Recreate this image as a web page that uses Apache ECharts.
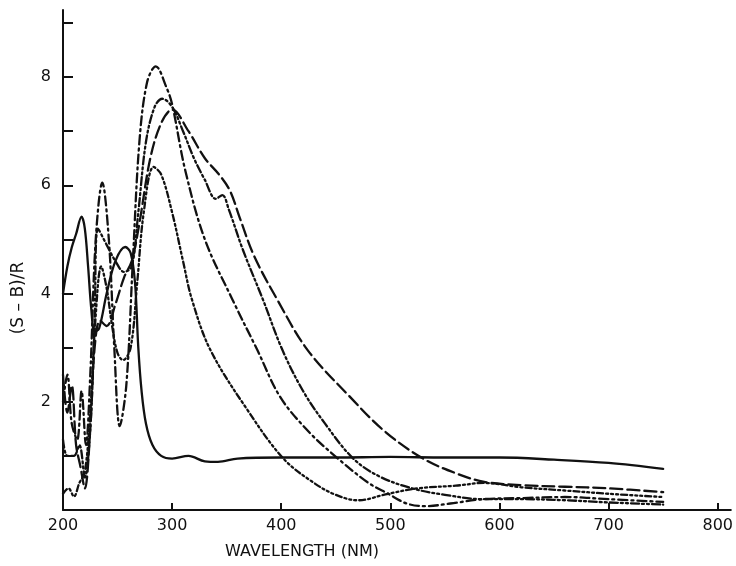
<!DOCTYPE html>
<html>
<head>
<meta charset="utf-8">
<script src="https://cdn.jsdelivr.net/npm/echarts@6/dist/echarts.min.js"></script>
<style>html,body{margin:0;padding:0;background:#fff;}#c{width:736px;height:566px;}</style>
</head>
<body>
<div id="c"></div>
<script>
// Tick labels
const xTickValues = [200, 300, 400, 500, 600, 700, 800];
const yTickValues = [1, 2, 3, 4, 5, 6, 7, 8, 9];
const yLabelValues = [2, 4, 6, 8];
const xTitle = 'WAVELENGTH (NM)';
const yTitle = '(S \u2013 B)/R';

// Solid curve
const solidNm  = [200,204,208,212,217,220,223,226,229,233,240,248,257,262,266,269,272,276,282,290,300,315,330,342,360,400,450,500,550,600,650,700,750];
const solidVal = [4.0,4.5,4.85,5.1,5.42,5.2,4.5,3.7,3.3,3.35,4.0,4.6,4.86,4.75,4.2,3.0,2.2,1.6,1.2,1.0,0.95,1.0,0.9,0.89,0.95,0.97,0.97,0.98,0.97,0.97,0.93,0.87,0.76];

// Dash-dot curve (peak ~8.2)
const aNm  = [200,204,208,213,217,221,225,230,236,242,247,252,258,264,270,277,285,295,300,312,330,355,378,399,425,452,480,498,515,532,555,585,620,660,700,750];
const aVal = [2.0,2.5,1.6,1.3,2.2,1.2,2.5,5.0,6.05,5.0,3.0,1.55,2.3,4.6,6.8,7.9,8.2,7.8,7.5,6.28,5.0,3.9,2.96,2.09,1.45,0.95,0.5,0.3,0.12,0.07,0.12,0.2,0.22,0.24,0.2,0.15];

// Dash-dot-dot curve (peak ~7.6)
const bNm  = [200,204,210,215,220,225,229,232,240,248,256,263,269,276,284,291,300,310,320,330,340,346,352,365,383,401,420,440,466,490,520,550,585,620,660,700,750];
const bVal = [1.3,1.0,1.0,1.2,0.6,1.5,3.5,5.2,4.9,4.6,4.4,4.5,5.5,6.8,7.45,7.6,7.45,7.0,6.5,6.1,5.75,5.82,5.55,4.8,3.9,2.96,2.2,1.6,0.95,0.62,0.4,0.28,0.2,0.2,0.18,0.14,0.1];

// Long-dash curve (peak ~7.4)
const cNm  = [200,204,208,212,216,220,225,229,234,240,248,256,263,270,280,290,300,315,330,343,353,362,375,396,424,463,495,530,560,586,620,660,700,750];
const cVal = [2.5,1.8,2.3,1.2,0.8,0.4,1.5,3.0,3.5,3.4,3.8,4.3,4.6,5.3,6.5,7.15,7.4,7.0,6.5,6.2,5.9,5.4,4.7,3.9,2.96,2.09,1.45,0.95,0.68,0.52,0.46,0.43,0.4,0.33];

// Dash-dot-dot-dot curve (peak ~6.3)
const dNm  = [200,205,210,215,220,225,230,235,240,245,250,255,262,268,274,283,290,300,310,318,335,369,402,430,450,470,498,525,560,586,620,660,700,750];
const dVal = [0.3,0.4,0.25,0.5,0.7,1.8,3.6,4.5,4.1,3.4,2.9,2.77,3.0,4.2,5.5,6.34,6.2,5.5,4.6,3.9,2.96,1.85,0.95,0.5,0.28,0.18,0.3,0.4,0.45,0.5,0.42,0.36,0.3,0.24];

function zip(xs, ys) { return xs.map((x, i) => [x, ys[i]]); }

const font = 'DejaVu Sans';
const chart = echarts.init(document.getElementById('c'), null, {renderer: 'canvas'});

function line(name, xs, ys, type, smooth) {
  return {
    name: name, type: 'line', data: zip(xs, ys), showSymbol: false, symbol: 'none',
    smooth: smooth, animation: false,
    lineStyle: {color: '#111', width: 2.3, type: type, cap: 'round', join: 'round'}
  };
}

chart.setOption({
  backgroundColor: '#fff',
  animation: false,
  grid: {left: 63, right: 5, top: 10, bottom: 56, containLabel: false},
  xAxis: {
    type: 'value', min: 200, max: 812, interval: 100,
    axisLine: {show: true, lineStyle: {color: '#111', width: 2}},
    axisTick: {show: true, inside: true, length: 7, lineStyle: {color: '#111', width: 2}, customValues: xTickValues},
    axisLabel: {color: '#111', fontSize: 16, fontFamily: font, margin: 8, customValues: xTickValues},
    splitLine: {show: false}
  },
  yAxis: {
    type: 'value', min: 0, max: 9.24, interval: 1,
    axisLine: {show: true, lineStyle: {color: '#111', width: 2}},
    axisTick: {show: true, inside: true, length: 10, lineStyle: {color: '#111', width: 2}, customValues: yTickValues},
    axisLabel: {color: '#111', fontSize: 16, fontFamily: font, margin: 12, customValues: yLabelValues},
    splitLine: {show: false}
  },
  graphic: [
    {type: 'text', x: 302, y: 552, style: {text: xTitle, font: '16px "DejaVu Sans"', fill: '#111', textAlign: 'center', textVerticalAlign: 'middle'}},
    {type: 'text', x: 19, y: 298, rotation: Math.PI / 2, style: {text: yTitle, font: '17px "DejaVu Sans"', fill: '#111', textAlign: 'center', textVerticalAlign: 'middle'}}
  ],
  series: [
    line('solid', solidNm, solidVal, 'solid', 0.35),
    line('A', aNm, aVal, [9, 4, 2, 4], 0.35),
    line('B', bNm, bVal, [8, 3, 2, 3, 2, 3], 0.35),
    line('C', cNm, cVal, [12, 5], 0.35),
    line('D', dNm, dVal, [6, 3, 2, 3, 2, 3, 2, 3], 0.35)
  ]
});
</script>
</body>
</html>
